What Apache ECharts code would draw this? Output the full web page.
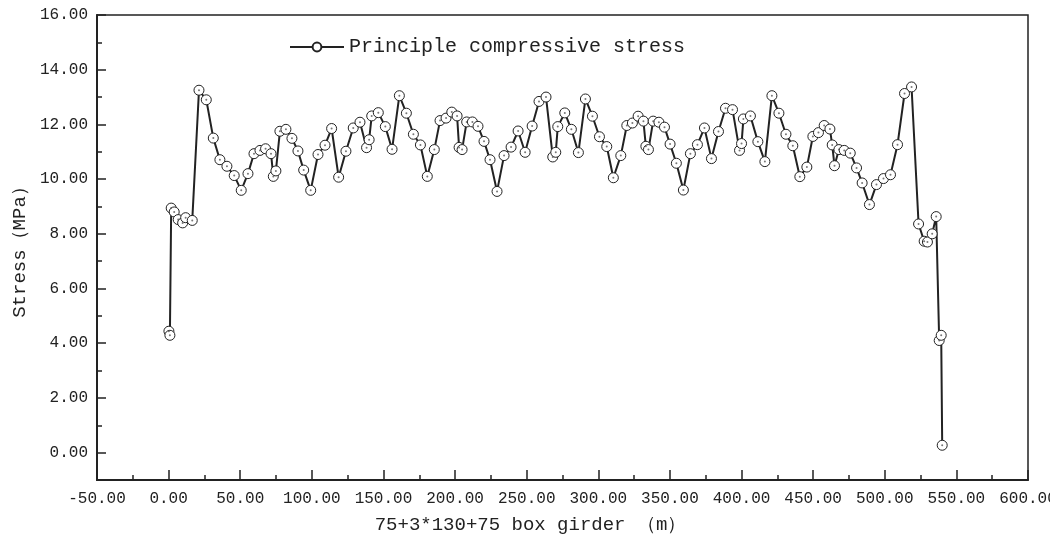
<!DOCTYPE html>
<html>
<head>
<meta charset="utf-8">
<script src="https://cdn.jsdelivr.net/npm/echarts@6/dist/echarts.min.js"></script>
<style>
  html, body { margin: 0; padding: 0; background: #fff; }
  #main { width: 1050px; height: 541px; }
</style>
</head>
<body>
<div id="main"></div>
<script>
// position along girder (m)
const positions = [0.2, 0.9, 1.8, 3.9, 6.7, 9.8, 11.9, 16.5, 21.2, 26.3,
  31.2, 35.8, 40.7, 45.8, 50.7, 55.4, 59.6, 63.8, 67.7, 71.5,
  73.1, 74.9, 77.7, 81.9, 86.1, 90.3, 94.3, 99.2, 104.3, 109.2,
  113.8, 118.7, 123.8, 128.9, 133.6, 138.2, 140.0, 141.8, 146.4, 151.3,
  156.0, 161.1, 166.0, 170.9, 175.8, 180.6, 185.5, 189.5, 193.7, 197.7,
  201.4, 202.8, 204.9, 208.1, 212.1, 216.0, 220.2, 224.4, 229.3, 234.2,
  239.1, 244.0, 248.9, 253.8, 258.6, 263.5, 268.2, 270.3, 271.7, 276.6,
  281.2, 286.1, 291.0, 295.9, 300.8, 305.9, 310.5, 315.7, 319.9, 323.8,
  327.8, 331.5, 333.2, 335.0, 338.3, 342.3, 346.2, 350.1, 354.5, 359.4,
  364.3, 369.2, 374.1, 379.0, 383.9, 388.8, 393.7, 398.6, 400.0, 401.3,
  406.2, 411.4, 416.3, 421.2, 426.1, 431.0, 435.8, 440.7, 445.6, 449.8,
  453.7, 457.7, 461.7, 463.3, 464.9, 468.0, 471.7, 475.9, 480.3, 484.2,
  489.3, 494.2, 499.1, 504.0, 508.9, 513.8, 518.7, 523.6, 527.5, 529.8,
  533.1, 535.9, 538.0, 539.4, 540.1]

// principle compressive stress (MPa)
const stress = [4.44, 4.29, 8.94, 8.80, 8.52, 8.40, 8.59, 8.49, 13.25, 12.90,
  11.50, 10.71, 10.47, 10.13, 9.59, 10.20, 10.93, 11.05, 11.11, 10.93,
  10.10, 10.30, 11.75, 11.82, 11.49, 11.03, 10.33, 9.59, 10.90, 11.24,
  11.85, 10.07, 11.02, 11.87, 12.08, 11.15, 11.44, 12.31, 12.43, 11.92,
  11.09, 13.05, 12.41, 11.64, 11.25, 10.10, 11.08, 12.14, 12.23, 12.45,
  12.31, 11.16, 11.08, 12.09, 12.09, 11.93, 11.38, 10.71, 9.55, 10.86,
  11.17, 11.76, 10.98, 11.94, 12.84, 13.00, 10.81, 10.98, 11.92, 12.42,
  11.82, 10.97, 12.93, 12.30, 11.55, 11.19, 10.05, 10.86, 11.96, 12.05,
  12.30, 12.12, 11.20, 11.08, 12.12, 12.08, 11.90, 11.28, 10.58, 9.60,
  10.93, 11.26, 11.87, 10.75, 11.74, 12.59, 12.54, 11.05, 11.30, 12.20,
  12.31, 11.37, 10.64, 13.05, 12.41, 11.64, 11.22, 10.09, 10.44, 11.56,
  11.70, 11.96, 11.83, 11.25, 10.49, 11.08, 11.05, 10.95, 10.41, 9.86,
  9.07, 9.80, 10.02, 10.16, 11.26, 13.13, 13.37, 8.36, 7.73, 7.70,
  8.00, 8.63, 4.10, 4.29, 0.27]

const yMajorTicks = [0, 2, 4, 6, 8, 10, 12, 14, 16]
const yMinorTicks = [1, 3, 5, 7, 9, 11, 13, 15]

const points = positions.map((x, i) => [x, stress[i]])

const font = 'Liberation Mono'
const ink = '#222'

const chartDom = document.getElementById('main')
const myChart = echarts.init(chartDom, null, { renderer: 'canvas' })

let option = {
  backgroundColor: '#fff',
  animation: false,
  grid: {
    left: 97,
    right: 22,
    top: 15,
    bottom: 61,
    outerBoundsMode: 'none',
    containLabel: false,
    show: true,
    borderColor: ink,
    borderWidth: 1.5,
  },
  legend: {
    data: ['Principle compressive stress'],
    left: 284,
    top: 32,
    itemWidth: 54,
    itemHeight: 11,
    itemGap: 10,
    textStyle: {
      fontFamily: font,
      fontSize: 20,
      color: '#222',
    },
  },
  xAxis: {
    type: 'value',
    min: -50,
    max: 600,
    interval: 50,
    name: '75+3*130+75 box girder （m）',
    nameLocation: 'middle',
    nameGap: 35,
    nameTextStyle: {
      fontFamily: font,
      fontSize: 19,
      color: '#222',
      padding: [0, 64, 0, 0],
    },
    axisLine: { onZero: false, lineStyle: { color: ink, width: 2 } },
    axisTick: { inside: true, length: 10, lineStyle: { color: ink, width: 1.5 } },
    minorTick: { show: true, splitNumber: 2, length: 5, lineStyle: { color: ink, width: 1.5 } },
    splitLine: { show: false },
    axisLabel: {
      fontFamily: font,
      fontSize: 16,
      color: '#222',
      margin: 11,
      formatter: (v) => v.toFixed(2),
    },
  },
  yAxis: [
    {
      type: 'value',
      min: -1,
      max: 16,
      name: 'Stress（MPa）',
      nameLocation: 'middle',
      nameGap: 67,
      nameTextStyle: {
        fontFamily: font,
        fontSize: 19,
        color: '#222',
      },
      axisLine: { onZero: false, lineStyle: { color: ink, width: 2 } },
      axisTick: {
        inside: true,
        length: 9,
        customValues: yMajorTicks,
        lineStyle: { color: ink, width: 1.5 },
      },
      splitLine: { show: false },
      axisLabel: {
        fontFamily: font,
        fontSize: 16,
        color: '#222',
        margin: 9,
        customValues: yMajorTicks,
        formatter: (v) => v.toFixed(2),
      },
    },
    {
      // odd-value minor ticks
      type: 'value',
      min: -1,
      max: 16,
      position: 'left',
      axisLine: { show: false, onZero: false },
      axisTick: {
        inside: true,
        length: 5,
        customValues: yMinorTicks,
        lineStyle: { color: ink, width: 1.5 },
      },
      axisLabel: { show: false },
      splitLine: { show: false },
    },
  ],
  series: [
    {
      name: 'Principle compressive stress',
      type: 'line',
      data: points,
      symbol: 'circle',
      symbolSize: 10,
      lineStyle: { color: ink, width: 2 },
      itemStyle: { color: '#fff', borderColor: ink, borderWidth: 1 },
      z: 2,
    },
    {
      // centre dots of the markers
      name: 'dots',
      type: 'scatter',
      data: points,
      symbol: 'circle',
      symbolSize: 2,
      itemStyle: { color: '#555' },
      silent: true,
      z: 3,
    },
  ],
}
myChart.setOption(option)
</script>
</body>
</html>
